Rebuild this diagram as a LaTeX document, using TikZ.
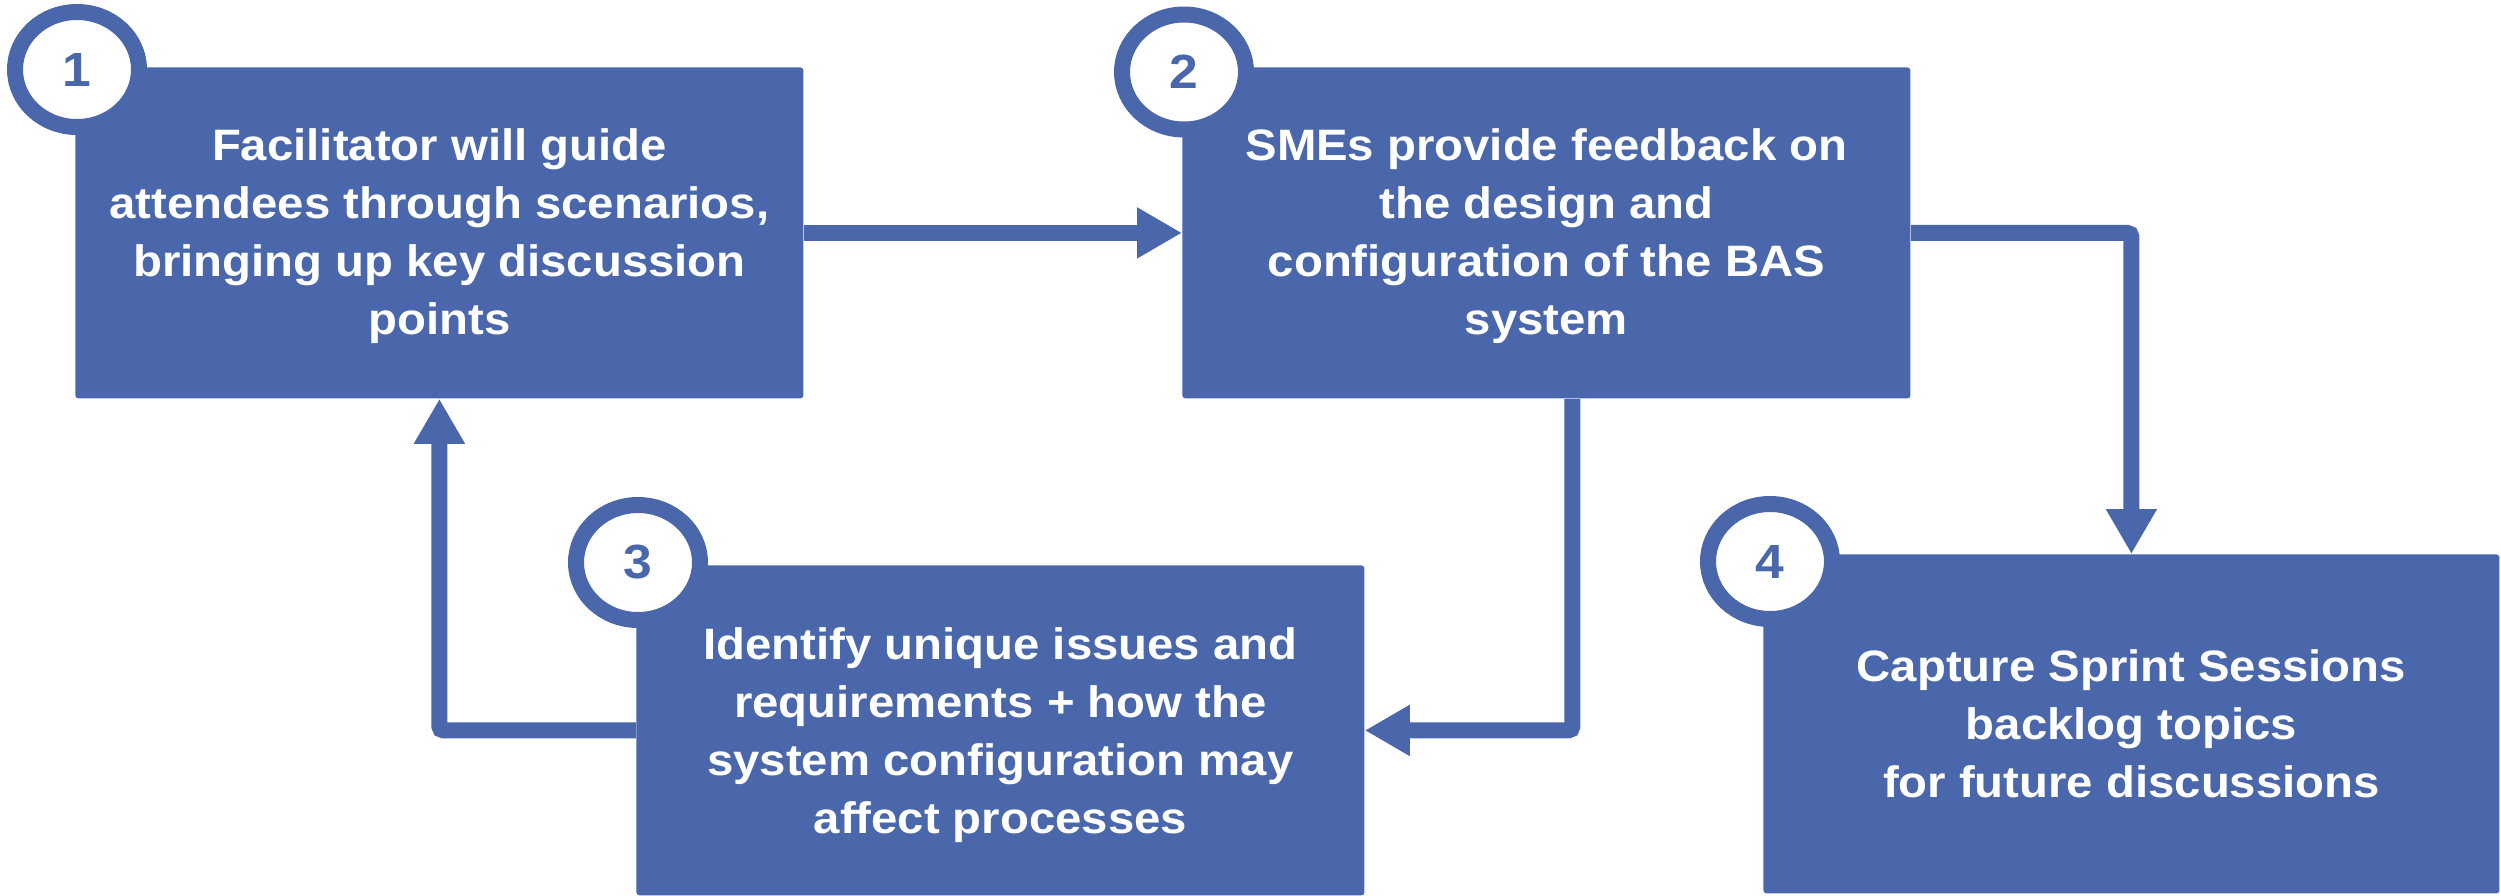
\documentclass[tikz,border=0pt]{standalone}
\usepackage{fontspec}
\setmainfont{Liberation Sans}[FakeStretch=1.075]
\usetikzlibrary{arrows.meta,shapes.geometric,calc}
\definecolor{bblue}{RGB}{74,103,172}
\begin{document}
\begin{tikzpicture}[x=0.5pt,y=-0.5pt,
  stepbox/.style={fill=bblue, rounded corners=1.5pt, inner sep=0pt, text=white, align=center,
    font=\bfseries\fontsize{22}{29}\selectfont, anchor=north west},
  numcirc/.style={ellipse, draw=bblue, line width=8pt, fill=white, minimum width=62pt,
    minimum height=57.5pt, inner sep=0pt, text=bblue, font=\bfseries\fontsize{24}{24}\selectfont},
  conn/.style={draw=bblue, line width=8pt, rounded corners=2pt,
    -{Triangle[length=22.5pt,width=24pt]}}]
\useasboundingbox (0,0) rectangle (2501,895);

\node[stepbox, minimum width=364pt, minimum height=165.5pt, text depth=1.4pt] (b1) at (75,67)
  {Facilitator will guide\\attendees through scenarios,\\bringing up key discussion\\points};
\node[stepbox, minimum width=364pt, minimum height=165.5pt, text depth=1.4pt] (b2) at (1182,67)
  {SMEs provide feedback on\\the design and\\configuration of the BAS\\system};
\node[stepbox, minimum width=364pt, minimum height=165pt, text depth=0pt] (b3) at (636,565)
  {Identify unique issues and\\requirements + how the\\system configuration may\\affect processes};
\node[stepbox, minimum width=368pt, minimum height=169.5pt, text depth=-4.8pt] (b4) at (1763,554)
  {Capture Sprint Sessions\\backlog topics\\for future discussions};

\draw[conn] (b1.east) -- (b2.west);
\draw[conn] (b2.east) -| (b4.north);
\draw[conn] ($(b2.south)+(26,0)$) |- (b3.east);
\draw[conn] (b3.west) -| (b1.south);

\node[numcirc] (n1) at (77,69.5) {1};
\node[numcirc] (n2) at (1184,72) {2};
\node[numcirc] (n3) at (638,562.5) {3};
\node[numcirc] (n4) at (1770,561.5) {4};
\end{tikzpicture}
\end{document}
